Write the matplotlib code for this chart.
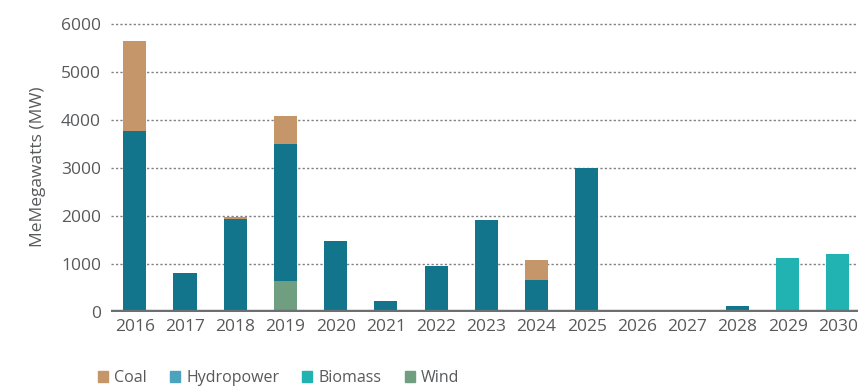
import numpy as np
import matplotlib.pyplot as plt
from matplotlib.patches import Patch

years = [str(y) for y in range(2016, 2031)]
coal = [1870, 0, 25, 580, 0, 0, 0, 0, 415, 0, 0, 0, 0, 0, 0]
hydropower = [3780, 810, 1945, 2870, 1475, 225, 955, 1910, 665, 3000, 0, 0, 120, 0, 0]
biomass = [0, 0, 0, 0, 0, 0, 0, 0, 0, 0, 0, 0, 0, 1120, 1200]
wind = [0, 0, 0, 640, 0, 0, 0, 0, 0, 0, 0, 0, 0, 0, 0]

c_coal = '#C4966A'
c_hydro = '#13758C'
c_hydro_leg = '#4BA3BD'
c_bio = '#21B3B1'
c_wind = '#6F9E80'
grey = '#58595B'

plt.rcParams['font.family'] = ['Open Sans', 'DejaVu Sans']

fig = plt.figure(figsize=(8.58, 3.87), dpi=100)
ax = fig.add_axes([0.129, 0.194, 0.871, 0.750])

x = np.arange(len(years))
w = 0.46
wind_a = np.array(wind)
hydro_a = np.array(hydropower)
bio_a = np.array(biomass)
ax.bar(x, wind, w, color=c_wind, zorder=2)
ax.bar(x, hydropower, w, bottom=wind_a, color=c_hydro, zorder=2)
ax.bar(x, biomass, w, bottom=wind_a + hydro_a, color=c_bio, zorder=2)
ax.bar(x, coal, w, bottom=wind_a + hydro_a + bio_a, color=c_coal, zorder=2)

ax.set_xlim(-0.48, 14.4)
ax.set_ylim(0, 6050)
ax.set_yticks(range(0, 7000, 1000))
ax.set_xticks(x)
ax.set_xticklabels(years)
ax.yaxis.grid(True, linestyle=(0, (1.6, 1.6)), color='#808080', linewidth=1.0, zorder=0)
ax.axhline(0, color='#6D6E71', linewidth=3.2, zorder=3)

for s in ax.spines.values():
    s.set_visible(False)
ax.tick_params(length=0, labelsize=12.5, labelcolor=grey)
ax.tick_params(axis='y', pad=7)
ax.tick_params(axis='x', pad=5)
ax.set_ylabel('MeMegawatts (MW)', fontsize=12.5, color=grey, labelpad=11)

handles = [Patch(color=c_coal, label='Coal'),
           Patch(color=c_hydro_leg, label='Hydropower'),
           Patch(color=c_bio, label='Biomass'),
           Patch(color=c_wind, label='Wind')]
leg = fig.legend(handles=handles, loc='lower left', bbox_to_anchor=(0.097, -0.035),
                 ncol=4, frameon=False, fontsize=11.5, handlelength=0.62,
                 handleheight=0.62, handletextpad=0.4, columnspacing=1.45)
for t in leg.get_texts():
    t.set_color(grey)

fig.savefig('out.png', dpi=100)
